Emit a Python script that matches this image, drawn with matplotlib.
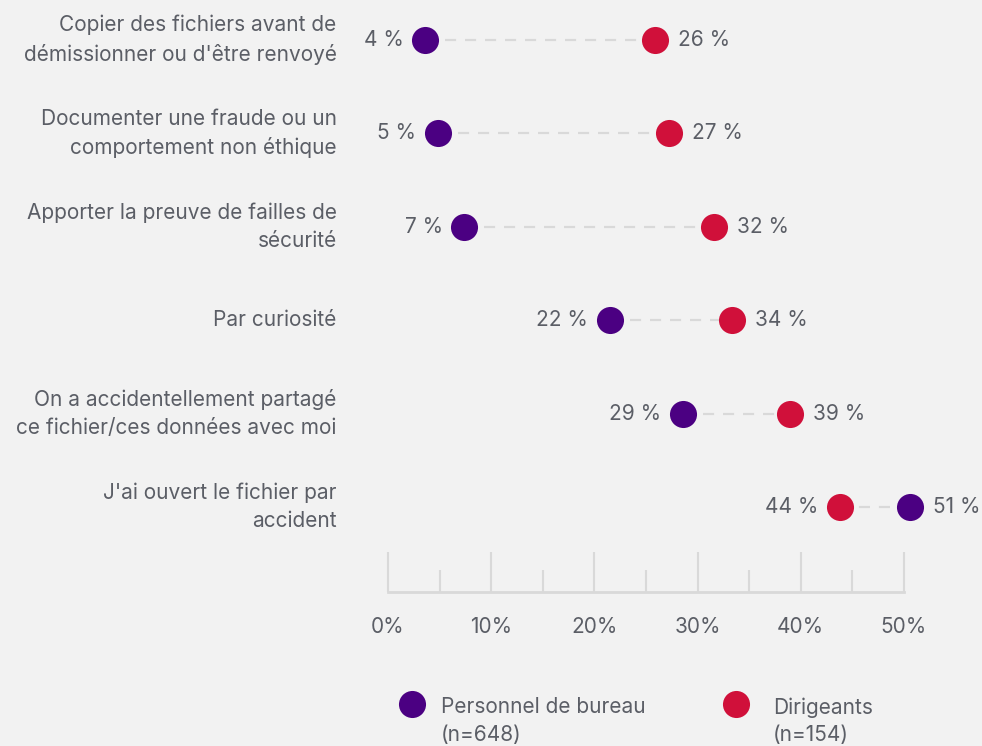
import numpy as np
import matplotlib.pyplot as plt
from matplotlib.ticker import MultipleLocator

plt.rcParams['font.family'] = ['Inter', 'DejaVu Sans']

categories = [
    "Copier des fichiers avant de\ndémissionner ou d'être renvoyé",
    "Documenter une fraude ou un\ncomportement non éthique",
    "Apporter la preuve de failles de\nsécurité",
    "Par curiosité",
    "On a accidentellement partagé\nce fichier/ces données avec moi",
    "J'ai ouvert le fichier par\naccident",
]
bureau = [3.6, 4.8, 7.4, 21.5, 28.6, 50.6]
dirigeants = [25.9, 27.2, 31.6, 33.3, 39.0, 43.8]
bureau_lbl = ["4 %", "5 %", "7 %", "22 %", "29 %", "51 %"]
dirigeants_lbl = ["26 %", "27 %", "32 %", "34 %", "39 %", "44 %"]
legend_names = ["Personnel de bureau\n(n=648)", "Dirigeants\n(n=154)"]

purple = "#4b0082"
red = "#d0103a"
grey_txt = "#5b5e66"
grey_line = "#d9d9d9"
bg = "#f2f2f2"
fs = 15

W, H = 982, 746
fig = plt.figure(figsize=(W / 100, H / 100), dpi=100, facecolor=bg)
ax = fig.add_axes([388 / W, 1 - 592 / H, 516 / W, 592 / H])
ax.set_facecolor(bg)
ax.set_xlim(0, 50)
ax.set_ylim(5.91, -0.428)

rows = np.arange(len(categories))
for i in rows:
    b, d = bureau[i], dirigeants[i]
    ax.plot([b, d], [i, i], color=grey_line, lw=1.6, ls=(0, (5, 4)), zorder=1, clip_on=False)
    left_is_b = b < d
    lo, hi = (b, d) if left_is_b else (d, b)
    lo_lbl = bureau_lbl[i] if left_is_b else dirigeants_lbl[i]
    hi_lbl = dirigeants_lbl[i] if left_is_b else bureau_lbl[i]
    ax.annotate(lo_lbl, (lo, i), xytext=(-15.5, 0), textcoords='offset points',
                ha='right', va='center', fontsize=fs, color=grey_txt, annotation_clip=False)
    ax.annotate(hi_lbl, (hi, i), xytext=(16.5, 0), textcoords='offset points',
                ha='left', va='center', fontsize=fs, color=grey_txt, annotation_clip=False)
    ax.annotate(categories[i], (0, i), xytext=(-37, 0), textcoords='offset points',
                ha='right', va='center', fontsize=fs, color=grey_txt, linespacing=1.5,
                annotation_clip=False)

ax.scatter(bureau, rows, s=380, color=purple, zorder=3, clip_on=False, lw=0)
ax.scatter(dirigeants, rows, s=380, color=red, zorder=3, clip_on=False, lw=0)

for s in ['top', 'left', 'right']:
    ax.spines[s].set_visible(False)
ax.spines['bottom'].set_color(grey_line)
ax.spines['bottom'].set_linewidth(2)
ax.set_yticks([])
ax.xaxis.set_major_locator(MultipleLocator(10))
ax.xaxis.set_minor_locator(MultipleLocator(5))
ax.set_xticks(np.arange(0, 51, 10))
ax.set_xticklabels([f"{v}%" for v in range(0, 51, 10)])
ax.tick_params(axis='x', which='major', direction='in', length=29, width=1.5,
               color=grey_line, labelsize=fs, labelcolor=grey_txt, pad=18)
ax.tick_params(axis='x', which='minor', direction='in', length=16, width=1.5, color=grey_line)

# legend
lg = fig.add_axes([0, 0, 1, 1])
lg.set_xlim(0, W)
lg.set_ylim(H, 0)
lg.axis('off')
for x, tx, c, name in [(412, 441, purple, legend_names[0]), (736, 773, red, legend_names[1])]:
    lg.scatter([x], [704], s=380, color=c, lw=0)
    lg.text(tx, 697, name, ha='left', va='top', fontsize=fs,
            color=grey_txt, linespacing=1.5)

fig.savefig("out.png", dpi=100, facecolor=bg)
